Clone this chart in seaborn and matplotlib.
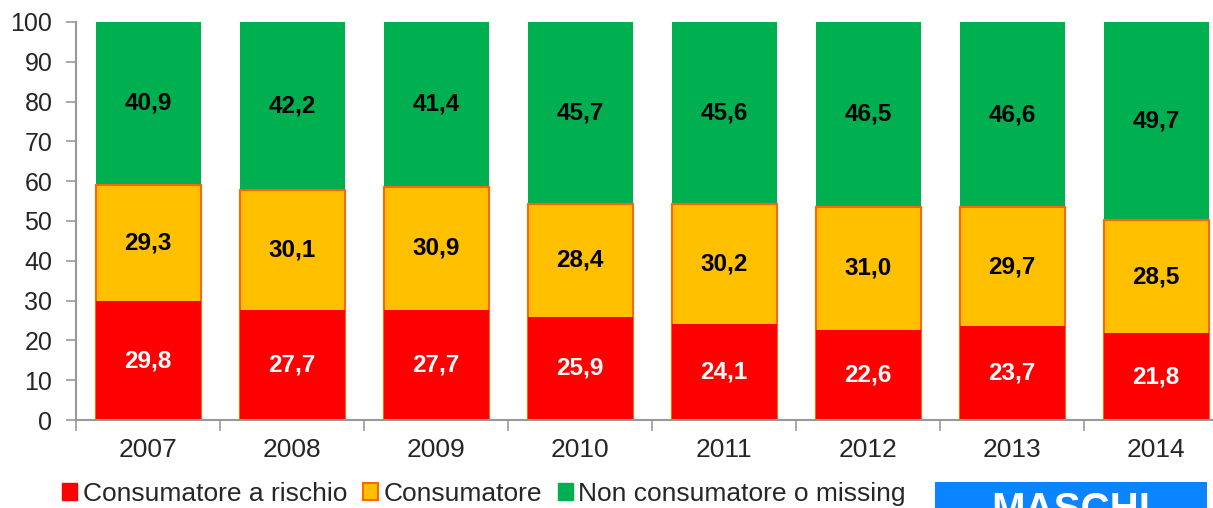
import matplotlib
matplotlib.use("Agg")
import matplotlib.pyplot as plt
import seaborn as sns
import pandas as pd
import numpy as np
from matplotlib.patches import Rectangle

sns.set_style("white")
plt.rcParams['font.family'] = ['Liberation Sans', 'DejaVu Sans']

years = ["2007", "2008", "2009", "2010", "2011", "2012", "2013", "2014"]
rischio = [29.8, 27.7, 27.7, 25.9, 24.1, 22.6, 23.7, 21.8]
consumatore = [29.3, 30.1, 30.9, 28.4, 30.2, 31.0, 29.7, 28.5]
non_cons = [40.9, 42.2, 41.4, 45.7, 45.6, 46.5, 46.6, 49.7]
series_names = ["Consumatore a rischio", "Consumatore", "Non consumatore o missing"]

RED = "#FF0000"
YEL = "#FFC000"
ORG = "#FF6600"
GRN = "#00B050"

fig = plt.figure(figsize=(12.13, 5.08), dpi=100)
ax = fig.add_axes([76/1213, 88/508, 1152/1213, 398/508])

df = pd.DataFrame({"year": years, "r": rischio, "c": consumatore, "n": non_cons})
df["rc"] = df["r"] + df["c"]
df["rcn"] = df["rc"] + df["n"]

w = 105/144
sns.barplot(data=df, x="year", y="rcn", color=GRN, width=w, ax=ax, saturation=1, linewidth=0)
sns.barplot(data=df, x="year", y="rc", color=YEL, width=w, ax=ax, saturation=1,
            edgecolor=ORG, linewidth=1.5)
sns.barplot(data=df, x="year", y="r", color=RED, width=w, ax=ax, saturation=1, linewidth=0)

for i in range(len(years)):
    r, c, n = rischio[i], consumatore[i], non_cons[i]
    ax.text(i, r/2, f"{r:.1f}".replace(".", ","), ha="center", va="center",
            color="white", fontsize=17.5, fontweight="bold")
    ax.text(i, r + c/2, f"{c:.1f}".replace(".", ","), ha="center", va="center",
            color="black", fontsize=17.5, fontweight="bold")
    ax.text(i, r + c + n/2, f"{n:.1f}".replace(".", ","), ha="center", va="center",
            color="black", fontsize=17.5, fontweight="bold")

ax.set_xlim(-0.5, 7.5)
ax.set_ylim(0, 100)
ax.set_yticks(range(0, 101, 10))
ax.set_xlabel("")
ax.set_ylabel("")
for s in ["top", "right"]:
    ax.spines[s].set_visible(False)
for s in ["left", "bottom"]:
    ax.spines[s].set_color("#999999")
    ax.spines[s].set_linewidth(1.5)
ax.tick_params(axis="y", which="major", direction="out", length=7, width=1.2,
               color="#999999", labelsize=18, pad=10, left=True)
ax.tick_params(axis="x", which="major", length=0, labelsize=19, pad=13)
ax.set_xticks(np.arange(-0.5, 7.6, 1), minor=True)
ax.tick_params(axis="x", which="minor", direction="out", length=8, width=1.2,
               color="#999999", bottom=True)

# legend
handles = [Rectangle((0, 0), 1, 1, facecolor=RED, edgecolor=RED),
           Rectangle((0, 0), 1, 1, facecolor=YEL, edgecolor=ORG, linewidth=1.5),
           Rectangle((0, 0), 1, 1, facecolor=GRN, edgecolor=GRN)]
fig.legend(handles, series_names, loc="center left", bbox_to_anchor=(62/1213, 1 - 494/508),
           ncol=3, frameon=False, fontsize=19, handlelength=0.58, handleheight=0.58,
           handletextpad=0.2, columnspacing=0.6, borderaxespad=0, borderpad=0)

# MASCHI box
fig.patches.append(Rectangle((935/1213, 0), 272/1213, 26/508, transform=fig.transFigure,
                             facecolor="#0A84FF", edgecolor="none", zorder=5))
fig.text(1071/1213, 1 - 491/508, "MASCHI", ha="center", va="top", color="white",
         fontsize=29, fontweight="bold", zorder=6)

fig.savefig("out.png", dpi=100)
